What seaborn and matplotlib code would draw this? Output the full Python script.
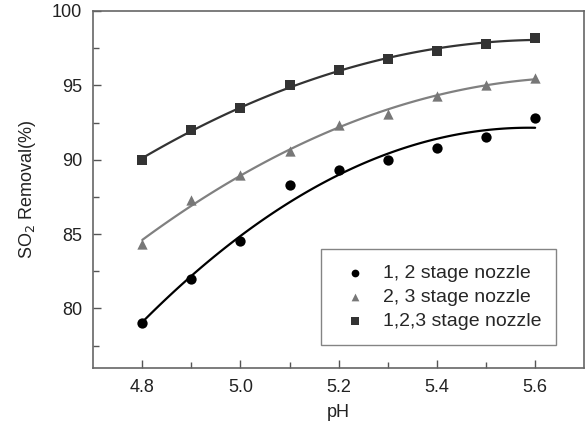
import matplotlib
matplotlib.use("Agg")
import matplotlib.pyplot as plt
import seaborn as sns
import pandas as pd
from matplotlib.ticker import FixedLocator

ph = [4.8, 4.9, 5.0, 5.1, 5.2, 5.3, 5.4, 5.5, 5.6]
s12 = [79.0, 82.0, 84.5, 88.3, 89.3, 90.0, 90.8, 91.5, 92.8]
s23 = [84.3, 87.3, 89.0, 90.6, 92.3, 93.1, 94.3, 95.0, 95.5]
s123 = [90.0, 92.0, 93.5, 95.0, 96.0, 96.8, 97.3, 97.8, 98.2]
labels = ["1, 2 stage nozzle", "2, 3 stage nozzle", "1,2,3 stage nozzle"]
xticks = [4.8, 5.0, 5.2, 5.4, 5.6]
yticks = [80, 85, 90, 95, 100]

sns.set_theme(style="ticks")
plt.rcParams['font.family'] = ['Liberation Sans', 'DejaVu Sans']

fig = plt.figure(figsize=(5.86, 4.38), dpi=100)
ax = fig.add_axes([0.159, 0.160, 0.838, 0.815])

series = [(s12, "o", "#000000", "#000000"),
          (s23, "^", "#777777", "#808080"),
          (s123, "s", "#333333", "#333333")]
for (vals, mk, mc, lc), lab in zip(series, labels):
    df = pd.DataFrame({"pH": ph, "val": vals})
    sns.regplot(data=df, x="pH", y="val", order=2, ci=None, ax=ax,
                scatter=False, line_kws=dict(color=lc, lw=1.6))
    sns.scatterplot(data=df, x="pH", y="val", ax=ax, marker=mk, color=mc,
                    s=55, edgecolor=mc, linewidth=0, label=lab, zorder=5)

ax.set_xlim(4.7, 5.7)
ax.set_ylim(76, 100)
ax.xaxis.set_major_locator(FixedLocator(xticks))
ax.xaxis.set_minor_locator(FixedLocator([4.9, 5.1, 5.3, 5.5]))
ax.yaxis.set_major_locator(FixedLocator(yticks))
ax.yaxis.set_minor_locator(FixedLocator([77.5, 82.5, 87.5, 92.5, 97.5]))
ax.set_xticklabels([f"{v:.1f}" for v in xticks])
ax.set_yticklabels([str(v) for v in yticks])
ax.tick_params(axis='both', which='major', direction='in', length=6, width=1,
               color="#555555", labelsize=13, labelcolor="#222222", pad=8)
ax.tick_params(axis='both', which='minor', direction='in', length=4, width=1,
               color="#555555")
for sp in ax.spines.values():
    sp.set_visible(True)
    sp.set_color("#666666")
    sp.set_linewidth(1.2)

ax.set_xlabel("pH", fontsize=13, color="#222222", labelpad=6)
ax.set_ylabel("SO$_2$ Removal(%)", fontsize=13, color="#222222", labelpad=10)

leg = ax.legend(loc="lower right", bbox_to_anchor=(0.943, 0.064),
                borderaxespad=0, fontsize=14,
                frameon=True, fancybox=False, edgecolor="#666666",
                handletextpad=0.45, borderpad=0.75, labelspacing=0.35,
                markerscale=0.75)
leg.get_frame().set_linewidth(1.0)

fig.savefig("out.png", dpi=100)
